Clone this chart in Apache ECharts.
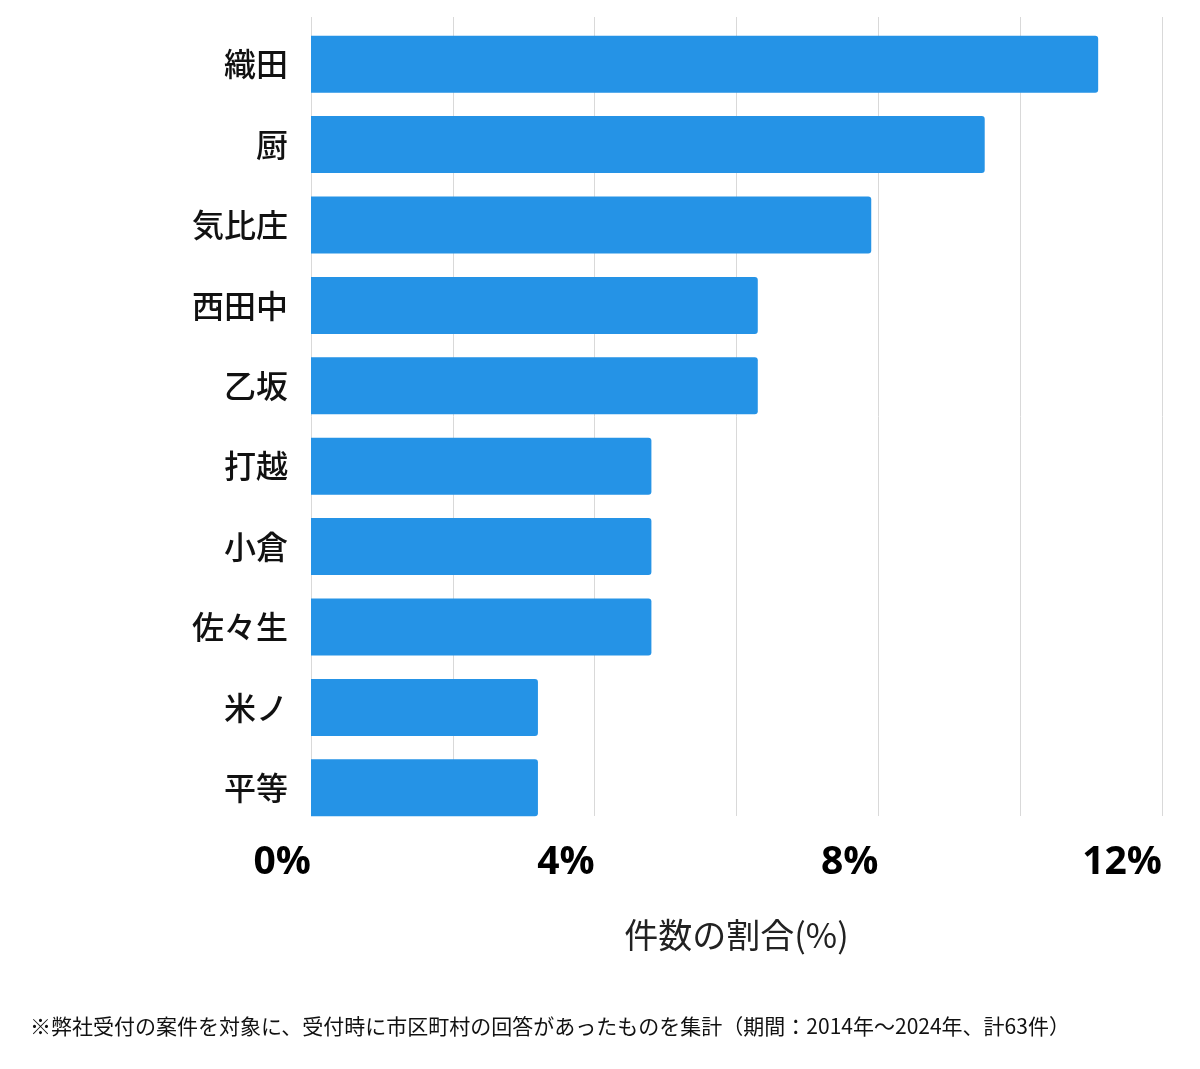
<!DOCTYPE html>
<html lang="ja">
<head>
    <meta charset="UTF-8"/>
    <title>件数の割合</title>
    <script src="https://cdn.jsdelivr.net/npm/echarts@6/dist/echarts.min.js"></script>
</head>
<body style="margin:0;background:#fff">
<div id="main" style="width:1200px;height:1069px;"></div>
<script type="text/javascript">
    // 上から順に
    var areas = ['織田', '厨', '気比庄', '西田中', '乙坂', '打越', '小倉', '佐々生', '米ノ', '平等'];
    var shares = [11.1, 9.5, 7.9, 6.3, 6.3, 4.8, 4.8, 4.8, 3.2, 3.2];
    var xTicks = [0, 4, 8, 12];
    var note = '※弊社受付の案件を対象に、受付時に市区町村の回答があったものを集計（期間：2014年～2024年、計63件）';

    var myChart = echarts.init(document.getElementById('main'));

    var option = {
        animation: false,
        textStyle: {fontFamily: '"Noto Sans CJK JP", "Noto Sans", sans-serif'},
        // grid 0: 目盛りと補助線, grid 1: 棒
        grid: [
            {left: 311, right: 38, top: 17, bottom: 253},
            {left: 311, right: 38, top: 24, bottom: 241}
        ],
        graphic: [{
            type: 'text',
            left: 30,
            top: 1016,
            style: {text: note, fontSize: 21, fill: '#111', fontFamily: '"Noto Sans CJK JP", sans-serif'}
        }],
        xAxis: [{
            gridIndex: 0,
            type: 'value',
            min: 0,
            max: 12,
            interval: 2,
            name: '件数の割合(%)',
            nameLocation: 'middle',
            nameGap: 102,
            nameTextStyle: {fontSize: 34, color: '#222'},
            axisLine: {show: false},
            axisTick: {show: false},
            splitLine: {lineStyle: {color: '#d9d9d9', width: 1}},
            axisLabel: {
                margin: 27,
                fontSize: 39,
                fontWeight: 'bold',
                color: '#000',
                align: 'right',
                fontFamily: '"Open Sans", "Noto Sans", sans-serif',
                formatter: function (v) {
                    return xTicks.indexOf(v) >= 0 ? v + '%' : '';
                }
            }
        }, {
            gridIndex: 1,
            type: 'value',
            min: 0,
            max: 12,
            show: false
        }],
        yAxis: [{
            gridIndex: 0,
            type: 'category',
            data: areas,
            show: false
        }, {
            gridIndex: 1,
            type: 'category',
            inverse: true,
            data: areas,
            axisLine: {show: false},
            axisTick: {show: false},
            axisLabel: {margin: 23, fontSize: 32, fontWeight: 500, color: '#111'}
        }],
        series: [{
            type: 'bar',
            xAxisIndex: 1,
            yAxisIndex: 1,
            data: shares,
            barWidth: 57,
            itemStyle: {color: '#2593e6', borderRadius: [0, 3, 3, 0]}
        }]
    };

    myChart.setOption(option);
</script>
</body>
</html>
